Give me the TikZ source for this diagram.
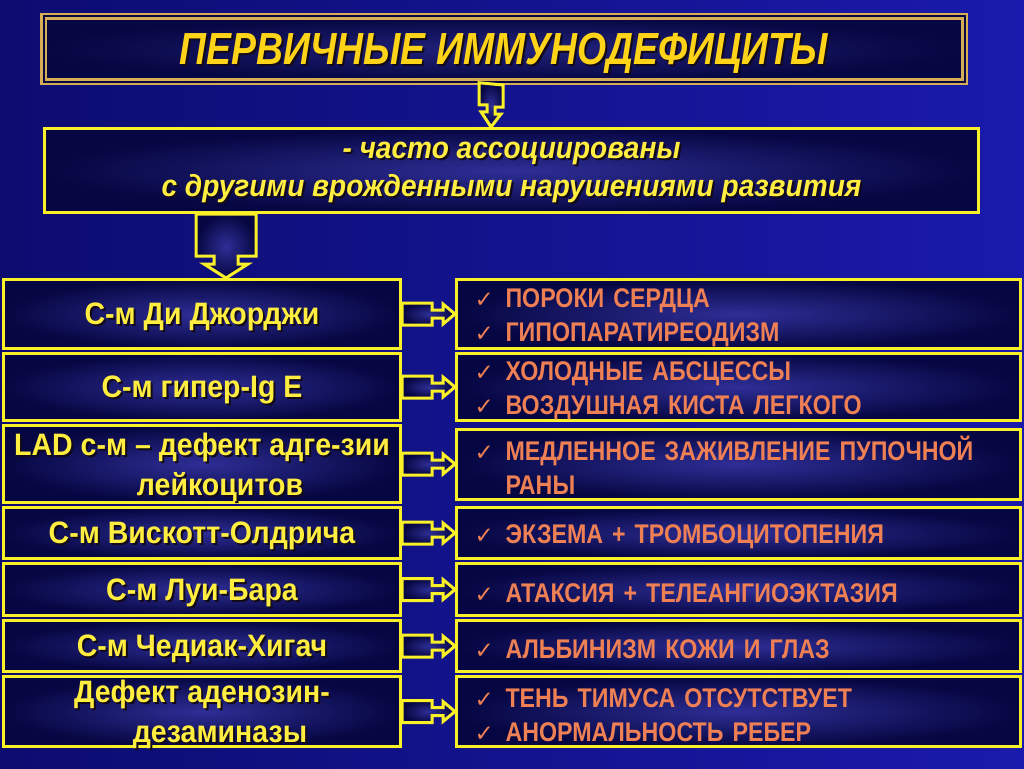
\documentclass[tikz,border=0pt]{standalone}
\usepackage{fontspec}
\setmainfont{Liberation Sans}[FakeStretch=0.92]
\newfontfamily\titlefont{Liberation Sans}[FakeStretch=0.83]
\newfontfamily\itemfont{Liberation Sans}[FakeStretch=0.86]
\newfontfamily\symfont{DejaVu Sans}
\usetikzlibrary{positioning,calc}
\definecolor{bg dark}{RGB}{12,12,112}
\definecolor{bg light}{RGB}{26,26,172}
\definecolor{box outer}{RGB}{6,6,66}
\definecolor{box inner}{RGB}{46,46,150}
\definecolor{frame}{RGB}{250,240,40}
\definecolor{gold}{RGB}{214,172,84}
\definecolor{label yellow}{RGB}{255,238,64}
\definecolor{title yellow}{RGB}{255,212,24}
\definecolor{item orange}{RGB}{238,128,84}
\definecolor{text shadow}{RGB}{18,10,24}
\newcommand\shadowed[1]{\makebox[0pt][l]{\hspace{2pt}\raisebox{-2pt}{\color{text shadow}#1}}#1}
\newcommand\chk{\makebox[31pt][l]{\symfont\fontsize{23}{23}\selectfont ✓}}
\tikzset{panel/.style={draw=frame, line width=3pt, inner color=box inner, outer color=box outer},
    leftbox/.style={panel, minimum width=397pt, align=center, text=label yellow, text depth=0pt,
        font=\fontsize{31}{40}\selectfont\bfseries},
    rightbox/.style={panel, text width=528pt, inner xsep=18pt, inner ysep=0pt, align=left, text=item orange,
        font=\itemfont\fontsize{27}{34}\selectfont\bfseries, execute at begin node=\rule{0pt}{26pt}},
    callout/.style={draw=frame, line width=3pt, line join=miter, inner color=box inner, outer color=box outer}}

\begin{document}
\begin{tikzpicture}[x=1pt,y=-1pt]
    \useasboundingbox (0,0) rectangle (1024,768);
    \shade[left color=bg dark, right color=bg light] (0,0) rectangle (1024,768);
    % title and header
    \node[draw=gold, double=box outer, double distance=2pt, line width=2.5pt,
        inner color=box inner!70!box outer, outer color=box outer, text depth=0pt,
        minimum width=921, minimum height=65] (title) at (504,49)
        {\titlefont\fontsize{45}{45}\selectfont\bfseries\itshape\color{title yellow}\shadowed{ПЕРВИЧНЫЕ ИММУНОДЕФИЦИТЫ}};
    \node[panel, minimum width=934, minimum height=84, align=center, text=label yellow, text depth=2pt,
        font=\fontsize{30.5}{38}\selectfont\bfseries\itshape] (assoc) at (511.5,170.5)
        {\shadowed{- часто ассоциированы}\\\shadowed{с другими врожденными нарушениями развития}};
    % syndromes
    \node[leftbox, minimum height=69] (L1) at (202,314) {\shadowed{С-м Ди Джорджи}};
    \node[leftbox, minimum height=67, below=2pt of L1] (L2) {\shadowed{С-м гипер-Ig E}};
    \node[leftbox, minimum height=77, below=2pt of L2] (L3)
        {\shadowed{LAD с-м – дефект адге-зии}\\\hspace*{36pt}\shadowed{лейкоцитов}};
    \node[leftbox, minimum height=51, below=2pt of L3] (L4) {\shadowed{С-м Вискотт-Олдрича}};
    \node[leftbox, minimum height=52, below=2pt of L4] (L5) {\shadowed{С-м Луи-Бара}};
    \node[leftbox, minimum height=51, below=2pt of L5] (L6) {\shadowed{С-м Чедиак-Хигач}};
    \node[leftbox, minimum height=70, below=2pt of L6] (L7)
        {\shadowed{Дефект аденозин-}\\\hspace*{36pt}\shadowed{дезаминазы}};
    % signs
    \node[rightbox, minimum height=69, right=53pt of L1] (R1) {\chk ПОРОКИ СЕРДЦА\\\chk ГИПОПАРАТИРЕОДИЗМ};
    \node[rightbox, minimum height=67, right=53pt of L2] (R2) {\chk ХОЛОДНЫЕ АБСЦЕССЫ\\\chk ВОЗДУШНАЯ КИСТА ЛЕГКОГО};
    \node[rightbox, minimum height=70, right=53pt of L3] (R3) {\chk МЕДЛЕННОЕ ЗАЖИВЛЕНИЕ ПУПОЧНОЙ\\\hspace*{31pt}РАНЫ};
    \node[rightbox, minimum height=51, right=53pt of L4] (R4) {\chk ЭКЗЕМА + ТРОМБОЦИТОПЕНИЯ};
    \node[rightbox, minimum height=52, right=53pt of L5] (R5) {\chk АТАКСИЯ + ТЕЛЕАНГИОЭКТАЗИЯ};
    \node[rightbox, minimum height=51, right=53pt of L6] (R6) {\chk АЛЬБИНИЗМ КОЖИ И ГЛАЗ};
    \node[rightbox, minimum height=70, right=53pt of L7] (R7) {\chk ТЕНЬ ТИМУСА ОТСУТСТВУЕТ\\\chk АНОРМАЛЬНОСТЬ РЕБЕР};
    % callout arrows
    \draw[callout] ($(title.south)+(-25,0)$) -- ++(0,22) -- ++(8,0) -- ++(0,7) -- ++(-6,0)
        -- ($(assoc.north -| title.south)+(-13,0)$) -- ++(10,-13) -- ++(-6,0) -- ++(0,-7) -- ++(8,0) -- ++(0,-22) -- cycle;
    \draw[callout] ($(assoc.south -| L1.north)+(-6,0)$) -- ++(0,42) -- ++(18,0) -- ++(0,8) -- ++(-10,0)
        -- ($(L1.north)+(24,0)$) -- ++(22,-14) -- ++(-10,0) -- ++(0,-8) -- ++(18,0) -- ++(0,-42) -- cycle;
    \foreach \i in {1,...,7}
        \draw[callout] ($(L\i.east)+(0,-11)$) -- ++(30,0) -- ++(0,7) -- ($(R\i.west |- L\i.east)+(-12,-4)$)
            -- ++(0,-6) -- ++(12,10) -- ++(-12,10) -- ++(0,-6) -- ($(L\i.east)+(30,4)$) -- ++(0,7) -- ++(-30,0) -- cycle;
\end{tikzpicture}
\end{document}
